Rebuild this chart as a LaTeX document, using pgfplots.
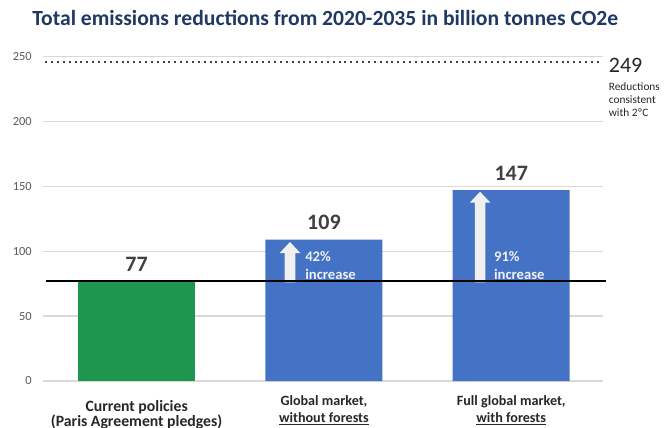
\documentclass[border=0pt]{standalone}
\usepackage{pgfplots}
\pgfplotsset{compat=1.18}
\usepackage{fontspec}
\setmainfont{Carlito}
\definecolor{barblue}{HTML}{4472C4}
\definecolor{bargreen}{HTML}{1E9650}
\definecolor{titlenavy}{HTML}{1F3864}
\definecolor{gridgray}{HTML}{D9D9D9}
\definecolor{ticktext}{HTML}{595959}
\definecolor{labeltext}{HTML}{262626}
\definecolor{valtext}{HTML}{404040}
\definecolor{arrowgray}{HTML}{F0F0F0}
\newcommand\myul[1]{\setbox0\hbox{#1}\rlap{\rule[-2pt]{\wd0}{0.75pt}}\box0}
\begin{document}
\begin{tikzpicture}
\useasboundingbox (-32.25pt,-35.25pt) rectangle (468pt,285.75pt);
\begin{axis}[
  scale only axis,
  width=420pt, height=243.4pt,
  xmin=-0.5, xmax=2.49,
  ymin=0, ymax=250,
  clip=false,
  axis line style={draw=none},
  tick style={draw=none},
  major tick length=0pt,
  ytick={0,50,100,150,200,250},
  ymajorgrids,
  grid style={gridgray, line width=0.9pt},
  yticklabel style={font=\fontsize{9.3}{10}\selectfont, text=ticktext, xshift=-4.9pt},
  /pgf/number format/assume math mode=true,
  xtick={1,2},
  xticklabels={{Global market,\\\myul{without forests}},{Full global market,\\\myul{with forests}}},
  xticklabel style={font=\fontsize{10.6}{12.5}\selectfont\bfseries, text=labeltext, align=center, yshift=-7.3pt},
  extra x ticks={0},
  extra x tick labels={{Current policies\\(Paris Agreement pledges)}},
  extra x tick style={grid=none, xticklabel style={font=\fontsize{11.8}{11.5}\selectfont\bfseries, text=labeltext, align=center, yshift=-3.4pt}},
  title={Total emissions reductions from 2020-2035 in billion tonnes CO2e},
  title style={at={(0.504,1.094)}, anchor=center, font=\fontsize{16.2}{18}\selectfont\bfseries, text=titlenavy},
  ybar, bar width=87.75pt,
  nodes near coords,
  every node near coord/.append style={font=\fontsize{16.5}{18}\selectfont\bfseries, text=valtext, anchor=center, yshift=12.8pt},
]
\addplot[ybar, bar shift=0pt, fill=bargreen, draw=none] coordinates {(0,77)};
\addplot[ybar, bar shift=0pt, fill=barblue, draw=none] coordinates {(1,109) (2,147)};
% block arrows
\fill[arrowgray] (axis cs:0.7904,76) -- (axis cs:0.7904,98.6) -- (axis cs:0.7637,98.6) -- (axis cs:0.8187,107.1) -- (axis cs:0.8737,98.6) -- (axis cs:0.8470,98.6) -- (axis cs:0.8470,76) -- cycle;
\fill[arrowgray] (axis cs:1.8053,76) -- (axis cs:1.8053,137.4) -- (axis cs:1.7786,137.4) -- (axis cs:1.8336,145.8) -- (axis cs:1.8886,137.4) -- (axis cs:1.8619,137.4) -- (axis cs:1.8619,76) -- cycle;
\node[anchor=base west, inner sep=0pt, font=\fontsize{11}{12}\selectfont\bfseries, text=arrowgray] at (axis cs:0.899,92.0) {42\%};
\node[anchor=base west, inner sep=0pt, font=\fontsize{11}{12}\selectfont\bfseries, text=arrowgray] at (axis cs:0.899,78.4) {increase};
\node[anchor=base west, inner sep=0pt, font=\fontsize{11}{12}\selectfont\bfseries, text=arrowgray] at (axis cs:1.907,92.0) {91\%};
\node[anchor=base west, inner sep=0pt, font=\fontsize{11}{12}\selectfont\bfseries, text=arrowgray] at (axis cs:1.907,78.4) {increase};
% reference lines
\addplot[sharp plot, no markers, black, line width=2pt, nodes near coords={}] coordinates {(-0.483,77) (2.504,77)};
\addplot[sharp plot, no markers, valtext, line width=1.5pt, dash pattern=on 1.5pt off 2.9pt, nodes near coords={}] coordinates {(-0.488,246) (2.486,246)};
\node[anchor=west, inner sep=0pt, font=\fontsize{16.5}{18}\selectfont, text=labeltext] at (axis cs:2.52,242.9) {249};
\node[anchor=north west, inner sep=0pt, align=left, font=\fontsize{8.5}{9.75}\selectfont, text=labeltext] at (axis cs:2.52,230.4) {Reductions\\consistent\\with 2ºC};
\end{axis}
\end{tikzpicture}
\end{document}
